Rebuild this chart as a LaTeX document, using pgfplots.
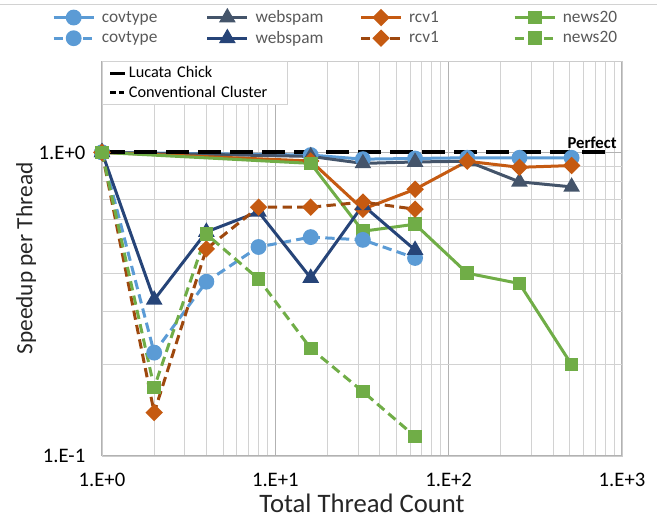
\documentclass[border=0pt]{standalone}
\usepackage{pgfplots}
\pgfplotsset{compat=1.18}
\usepackage{fontspec}
\setmainfont{Carlito}
\definecolor{cov}{HTML}{5B9BD5}
\definecolor{web}{HTML}{44546A}
\definecolor{webd}{HTML}{264478}
\definecolor{rcv}{HTML}{C55A11}
\definecolor{rcvd}{HTML}{9E480E}
\definecolor{news}{HTML}{70AD47}
\definecolor{txt}{HTML}{595959}
\begin{document}
\begin{tikzpicture}
\useasboundingbox (0pt,0pt) rectangle (492.75pt,389.25pt);
\draw[gray!35, line width=0.75pt] (0pt,385.5pt) -- (492.75pt,385.5pt);
\begin{axis}[
  at={(76.5pt,47.25pt)}, anchor=south west, scale only axis,
  width=390pt, height=296.25pt,
  xmode=log, ymode=log, xmin=1, xmax=1000, ymin=0.1, ymax=2,
  xtick={1,10,100,1000}, xticklabels={1.E+0,1.E+1,1.E+2,1.E+3},
  ytick={0.1,1}, yticklabels={1.E-1,1.E+0},
  /pgf/number format/assume math mode=true,
  grid=both,
  major grid style={gray!60, line width=0.8pt},
  minor grid style={gray!35, line width=0.7pt},
  axis line style={gray!40},
  tick style={draw=none},
  ticklabel style={font=\fontsize{15.5}{17}\selectfont, text=black},
  xticklabel style={yshift=-9pt},
  yticklabel style={xshift=-9pt},
  xlabel={Total Thread Count}, ylabel={Speedup per Thread},
  xlabel style={font=\fontsize{20}{23}\selectfont, text=black!85, yshift=1pt},
  ylabel style={font=\fontsize{17.5}{20}\selectfont, text=black!85, yshift=-5pt},
  legend columns=4,
  legend style={at={(-0.104,1.142)}, anchor=north west, draw=none, fill=none,
    font=\fontsize{13}{15}\selectfont, text=txt,
    nodes={text width=76pt, align=left},
    /tikz/every odd column/.append style={column sep=3pt},
    row sep=1pt},
  legend image code/.code={\draw[mark repeat=2,mark phase=2] plot coordinates {(0pt,0pt)(15pt,0pt)(30pt,0pt)};},
  every axis plot/.append style={line width=2.25pt},
]
% Lucata Chick (solid)
\addplot[cov, mark=*, mark size=4.8pt] coordinates {(1,1)(16,0.98)(32,0.95)(64,0.955)(128,0.96)(256,0.96)(512,0.96)};
\addlegendentry{covtype}
\addplot[web, mark=triangle*, mark size=5pt] coordinates {(1,1)(16,0.97)(32,0.92)(64,0.93)(128,0.935)(256,0.80)(512,0.77)};
\addlegendentry{webspam}
\addplot[rcv, mark=square*, mark size=3.5pt, mark options={rotate=45}] coordinates {(1,1)(16,0.937)(32,0.65)(64,0.756)(128,0.935)(256,0.893)(512,0.905)};
\addlegendentry{rcv1}
\addplot[news, mark=square*, mark size=4pt] coordinates {(1,1)(16,0.92)(32,0.55)(64,0.58)(128,0.40)(256,0.37)(512,0.20)};
\addlegendentry{news20}
% Conventional Cluster
\addplot[cov, dash pattern=on 7pt off 4pt, mark=*, mark size=4.8pt, mark options={solid}] coordinates {(1,1)(2,0.219)(4,0.375)(8,0.488)(16,0.526)(32,0.515)(64,0.449)};
\addlegendentry{covtype}
\addplot[webd, mark=triangle*, mark size=5pt] coordinates {(1,1)(2,0.327)(4,0.547)(8,0.637)(16,0.386)(32,0.67)(64,0.477)};
\addlegendentry{webspam}
\addplot[rcvd, dash pattern=on 7pt off 4pt, mark=square*, mark size=3.5pt, mark options={solid, rotate=45, fill=rcv, draw=rcv}] coordinates {(1,1)(2,0.139)(4,0.481)(8,0.66)(16,0.66)(32,0.686)(64,0.65)};
\addlegendentry{rcv1}
\addplot[news, dash pattern=on 7pt off 4pt, mark=square*, mark size=4pt, mark options={solid}] coordinates {(1,1)(2,0.168)(4,0.538)(8,0.383)(16,0.226)(32,0.163)(64,0.116)};
\addlegendentry{news20}
% Perfect
\addplot[black, line width=3pt, dash pattern=on 17pt off 7pt, forget plot] coordinates {(1,1)(890,1)};
\node[anchor=south, font=\bfseries\fontsize{12.5}{14}\selectfont, inner sep=1pt] at (axis cs:672,1.02) {Perfect};
\end{axis}
\begin{axis}[
  at={(76.5pt,47.25pt)}, anchor=south west, scale only axis,
  width=390pt, height=296.25pt,
  hide axis, xmin=0, xmax=1, ymin=0, ymax=1,
  legend style={at={(0,1)}, anchor=north west, draw=gray!35, fill=white,
    font=\fontsize{12.2}{14}\selectfont, text=black,
    nodes={text width=112pt, align=left}, row sep=0.5pt, inner xsep=5pt, inner ysep=2pt},
  legend image code/.code={\draw[line width=2pt] (0pt,0pt) -- (11pt,0pt);},
]
\addlegendimage{black}
\addlegendentry{Lucata Chick}
\addlegendimage{black, dash pattern=on 4pt off 2.5pt}
\addlegendentry{Conventional Cluster}
\end{axis}
\end{tikzpicture}
\end{document}
